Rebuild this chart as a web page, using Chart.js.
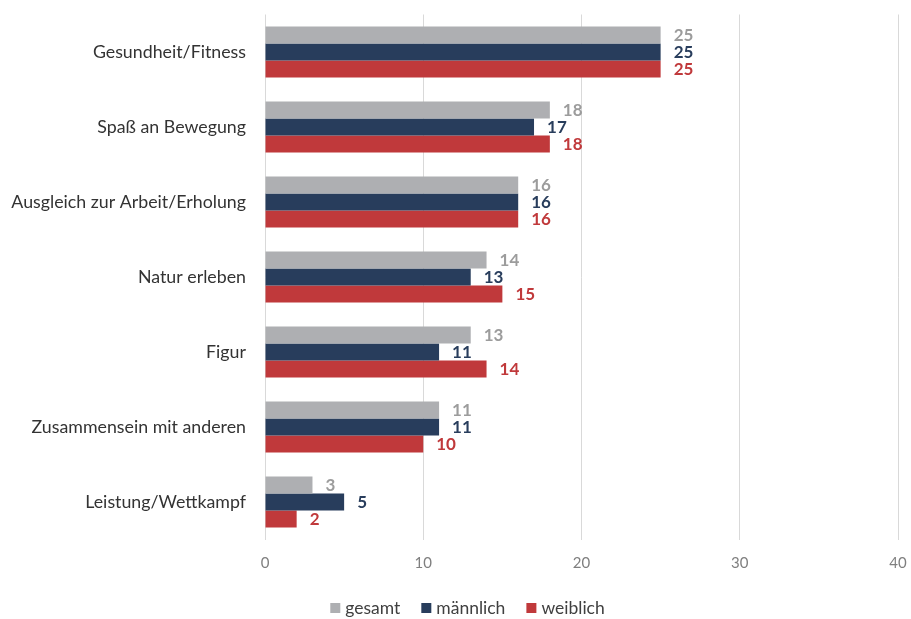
<!DOCTYPE html>
<html>
<head>
<meta charset="utf-8">
<script src="https://cdn.jsdelivr.net/npm/chart.js@4"></script>
<style>
  html, body { margin: 0; padding: 0; background: #fff; }
  #wrap { width: 911px; height: 619px; }
</style>
</head>
<body>
<div id="wrap"><canvas id="chart"></canvas></div>
<script>
const categories = [
    'Gesundheit/Fitness',
    'Spaß an Bewegung',
    'Ausgleich zur Arbeit/Erholung',
    'Natur erleben',
    'Figur',
    'Zusammensein mit anderen',
    'Leistung/Wettkampf'
]
const gesamt = [25, 18, 16, 14, 13, 11, 3]
const maennlich = [25, 17, 16, 13, 11, 11, 5]
const weiblich = [25, 18, 16, 15, 14, 10, 2]
const xTicks = [0, 10, 20, 30, 40]

const FONT = "Lato, 'Open Sans', sans-serif"

// Werte rechts neben die Balken schreiben
const barLabels = {
    id: 'barLabels',
    afterDatasetsDraw(chart) {
        const ctx = chart.ctx
        ctx.save()
        ctx.font = `bold 17px ${FONT}`
        ctx.textAlign = 'left'
        ctx.textBaseline = 'middle'
        chart.data.datasets.forEach((ds, i) => {
            const meta = chart.getDatasetMeta(i)
            meta.data.forEach((bar, j) => {
                ctx.fillStyle = ds.labelColor
                ctx.fillText(ds.data[j], bar.x + 13, bar.y + 1)
            })
        })
        ctx.restore()
    }
}

// eigene Legende unten, kleine Quadrate wie im Original
const bottomLegend = {
    id: 'bottomLegend',
    afterDraw(chart) {
        const ctx = chart.ctx
        ctx.save()
        ctx.font = `17.5px ${FONT}`
        ctx.textBaseline = 'middle'
        ctx.textAlign = 'left'
        const box = 10, gapText = 5, gapItem = 21
        const items = chart.data.datasets.map(ds => ({
            text: ds.label, color: ds.backgroundColor, w: ctx.measureText(ds.label).width
        }))
        const total = items.reduce((s, it) => s + box + gapText + it.w, 0) + gapItem * (items.length - 1)
        let x = chart.width / 2 + 12 - total / 2
        const y = 608
        items.forEach(it => {
            ctx.fillStyle = it.color
            ctx.fillRect(x, y - box / 2, box, box)
            x += box + gapText
            ctx.fillStyle = '#404040'
            ctx.fillText(it.text, x, y)
            x += it.w + gapItem
        })
        ctx.restore()
    }
}

new Chart(document.getElementById('chart').getContext('2d'), {
    type: 'bar',
    data: {
        labels: categories,
        datasets: [
            { label: 'gesamt', data: gesamt, backgroundColor: '#AEAFB2', labelColor: '#9C9C9C' },
            { label: 'männlich', data: maennlich, backgroundColor: '#283D5C', labelColor: '#283D5C' },
            { label: 'weiblich', data: weiblich, backgroundColor: '#C0393B', labelColor: '#C0393B' }
        ]
    },
    options: {
        indexAxis: 'y',
        responsive: true,
        maintainAspectRatio: false,
        animation: false,
        datasets: { bar: { categoryPercentage: 0.68, barPercentage: 1.0 } },
        layout: { padding: { top: 14.5, right: 13, left: 0, bottom: 39.5 } },
        scales: {
            x: {
                min: 0,
                max: 40,
                afterBuildTicks: (scale) => { scale.ticks = xTicks.map(v => ({ value: v })) },
                grid: { color: '#D9D9D9', lineWidth: 1, drawTicks: false },
                border: { display: false },
                ticks: { color: '#7F7F7F', font: { family: FONT, size: 15 }, padding: 15 },
                afterFit: (scale) => {
                    scale.height = 40
                    scale.paddingLeft = 0
                    scale.paddingRight = 0
                }
            },
            y: {
                grid: { display: false, drawTicks: false },
                border: { display: false },
                ticks: { color: '#333333', font: { family: FONT, size: 17.8 }, padding: 19 },
                afterFit: (scale) => {
                    scale.width = 265
                    scale.paddingTop = 0
                    scale.paddingBottom = 0
                }
            }
        },
        plugins: {
            legend: { display: false },
            tooltip: { enabled: false }
        }
    },
    plugins: [barLabels, bottomLegend]
});
</script>
</body>
</html>
